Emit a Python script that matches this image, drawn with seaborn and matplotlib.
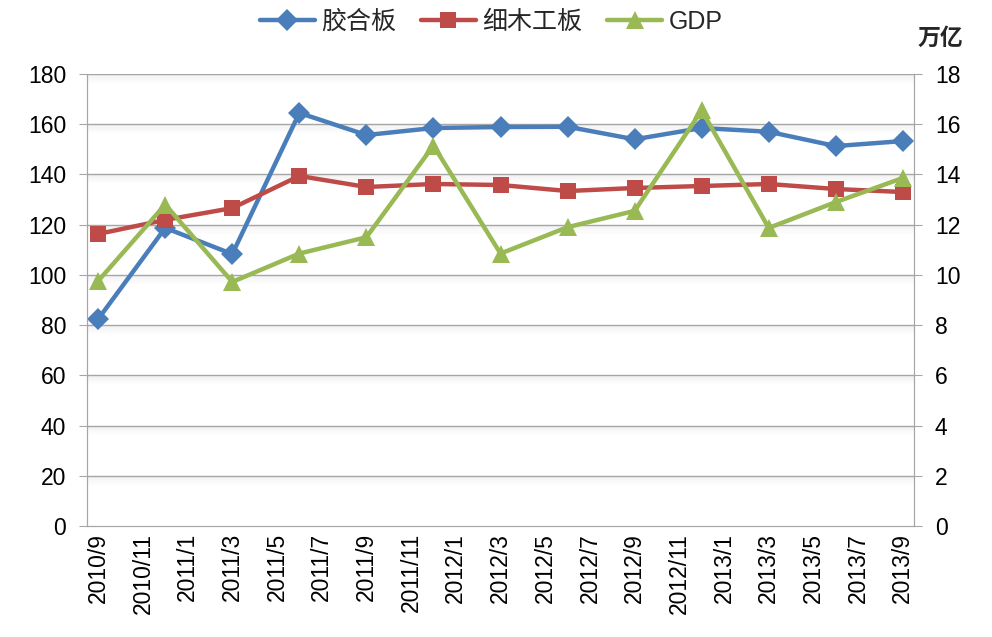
import numpy as np
import matplotlib.pyplot as plt
import seaborn as sns

# monthly category axis, data reported quarterly
months = [f"{y}/{m}" for y, m in
          [(2010, 9), (2010, 10), (2010, 11), (2010, 12)] +
          [(2011, m) for m in range(1, 13)] +
          [(2012, m) for m in range(1, 13)] +
          [(2013, m) for m in range(1, 10)]]
quarters = ['2010/9', '2010/12', '2011/3', '2011/6', '2011/9', '2011/12', '2012/3',
            '2012/6', '2012/9', '2012/12', '2013/3', '2013/6', '2013/9']

plywood = [82.4, 118.7, 108.3, 164.5, 155.7, 158.5, 158.9, 159.0, 154.0, 158.5, 157.0, 151.3, 153.3]
blockboard = [116.3, 121.9, 126.6, 139.4, 135.0, 136.2, 135.8, 133.4, 134.6, 135.4, 136.2, 134.2, 133.0]
gdp = [9.76, 12.8, 9.72, 10.85, 11.5, 15.15, 10.85, 11.9, 12.55, 16.55, 11.87, 12.9, 13.86]

left_ticks = list(range(0, 181, 20))
right_ticks = list(range(0, 19, 2))

sns.set_style('white')
plt.rcParams['font.family'] = ['Liberation Sans', 'Noto Sans CJK SC', 'DejaVu Sans']
fs = 16.5

x = [months.index(q) for q in quarters]

fig = plt.figure(figsize=(9.92, 6.37), dpi=100)
ax = fig.add_axes([0.0877, 0.1743, 0.8337, 0.7095])
ax2 = ax.twinx()

grid_c = '#A6A6A6'
for t in left_ticks[1:]:
    ax.axhline(t, color=grid_c, lw=1.0, zorder=0)
    # soft shadow under each gridline
    for k in range(8):
        ax.axhspan(t - 0.45 * (k + 1), t - 0.45 * k, color='#D9D9D9',
                   alpha=0.35 * (1 - k / 8), lw=0, zorder=-1)

sns.lineplot(x=x, y=plywood, ax=ax, color='#4A7EBB', lw=3.2, marker='D',
             markersize=11, markeredgewidth=0, label='胶合板', legend=False)
sns.lineplot(x=x, y=blockboard, ax=ax, color='#BE4B48', lw=3.2, marker='s',
             markersize=11, markeredgewidth=0, label='细木工板', legend=False)
sns.lineplot(x=x, y=gdp, ax=ax2, color='#98B954', lw=3.2, marker='^',
             markersize=13, markeredgewidth=0, label='GDP', legend=False)

ax.set_xlim(-0.5, len(months) - 0.5)
ax.set_ylim(0, 180)
ax2.set_ylim(0, 18)
ax.set_yticks(left_ticks)
ax2.set_yticks(right_ticks)
ax.set_xticks(np.arange(-0.5, len(months) - 1, 2))
ax.set_xticklabels([])
ax.set_xticks(np.arange(0, len(months), 2), minor=True)
ax.set_xticklabels(months[::2], minor=True, rotation=90, fontsize=fs, color='black')
ax.tick_params(axis='x', which='minor', length=0, pad=5)
ax.tick_params(axis='x', which='major', length=6, color=grid_c, width=1, direction='out')
ax.tick_params(axis='y', labelsize=fs, labelcolor='black', length=6, color=grid_c,
               direction='out', left=True, pad=9)
ax2.tick_params(axis='y', labelsize=fs, labelcolor='black', length=6, color=grid_c,
                direction='out', right=True, pad=9)

for a in (ax, ax2):
    for s in a.spines.values():
        s.set_color(grid_c)
    a.spines['top'].set_visible(False)
ax.set_xlabel('')

fig.text(0.948, 0.94, '万亿', fontsize=fs, fontweight='bold', ha='center', va='center',
         family=['Noto Sans CJK SC', 'DejaVu Sans'])

h1, l1 = ax.get_legend_handles_labels()
h2, l2 = ax2.get_legend_handles_labels()
fig.legend(h1 + h2, l1 + l2, loc='upper center', bbox_to_anchor=(0.495, 1.02), ncol=3,
           frameon=False, handlelength=2.2, handletextpad=0.25, columnspacing=1.0,
           prop={'family': ['Liberation Sans', 'Noto Sans CJK SC', 'DejaVu Sans'], 'size': 18})

fig.savefig('out.png', dpi=100)
